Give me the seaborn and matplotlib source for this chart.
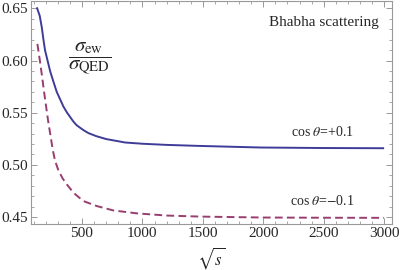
import numpy as np
import pandas as pd
import seaborn as sns
import matplotlib
matplotlib.use("Agg")
from matplotlib import pyplot as plt
from matplotlib.ticker import MultipleLocator, FormatStrFormatter

# values
sqrt_s_plus = [126, 150, 167, 181, 194, 236, 263, 291, 346, 374, 429, 456, 510, 553,
               620, 700, 856, 1000, 1200, 1476, 1973, 2500, 3000]
ratio_plus = [0.651, 0.643, 0.632, 0.620, 0.610, 0.590, 0.580, 0.570, 0.556, 0.5505,
              0.5415, 0.538, 0.5335, 0.5305, 0.5275, 0.5248, 0.5215, 0.5203, 0.5192,
              0.5182, 0.5167, 0.5162, 0.516]
sqrt_s_minus = [131, 150, 167, 185, 203, 220, 236, 258, 277, 304, 340, 374, 429, 511,
                622, 759, 953, 1200, 1476, 2000, 2500, 3000]
ratio_minus = [0.616, 0.601, 0.587, 0.571, 0.556, 0.542, 0.5305, 0.5145, 0.504, 0.495,
               0.487, 0.4814, 0.4734, 0.4654, 0.4606, 0.4564, 0.4536, 0.4515, 0.4505,
               0.4496, 0.4494, 0.4493]
curve_labels = [r"cos $\theta$=+0.1", r"cos $\theta$=$-$0.1"]

sns.set_style("ticks")
plt.rcParams['font.family'] = ['Liberation Serif', 'DejaVu Serif']
plt.rcParams['mathtext.fontset'] = 'stix'

df = pd.concat([
    pd.DataFrame({"sqrt_s": sqrt_s_plus, "ratio": ratio_plus, "curve": curve_labels[0]}),
    pd.DataFrame({"sqrt_s": sqrt_s_minus, "ratio": ratio_minus, "curve": curve_labels[1]}),
])

fig = plt.figure(figsize=(4.0, 2.7), dpi=100)
ax = fig.add_axes([0.0775, 0.170, 0.9015, 0.826])

sns.lineplot(data=df, x="sqrt_s", y="ratio", hue="curve", style="curve",
             palette=["#3d3d99", "#993d71"], dashes=[(1, 0), (4, 2.2)],
             linewidth=1.4, legend=False, ax=ax)

ax.set_xlim(78, 3062)
ax.set_ylim(0.4433, 0.6570)

ax.xaxis.set_major_locator(MultipleLocator(500))
ax.xaxis.set_minor_locator(MultipleLocator(100))
ax.yaxis.set_major_locator(MultipleLocator(0.05))
ax.yaxis.set_minor_locator(MultipleLocator(0.01))
ax.yaxis.set_major_formatter(FormatStrFormatter('%.2f'))

for sp in ax.spines.values():
    sp.set_visible(True)
    sp.set_color('#999999')
    sp.set_linewidth(0.8)
ax.tick_params(which='both', direction='in', top=True, right=True,
               color='#999999', labelsize=11, pad=2)
ax.tick_params(which='major', length=4, width=0.7)
ax.tick_params(which='minor', length=2.2, width=0.6)

ax.set_xlabel(r"$\sqrt{s}$", fontsize=12, labelpad=4)
ax.set_ylabel("")

ax.text(0.965, 0.935, "Bhabha scattering", transform=ax.transAxes,
        ha='right', va='top', fontsize=11)
ax.text(0.163, 0.744, r"$\dfrac{\sigma_{\rm ew}}{\sigma_{\rm QED}}$",
        transform=ax.transAxes, ha='center', va='center', fontsize=15)
ax.text(2490, 0.5317, curve_labels[0], ha='center', va='center', fontsize=10)
ax.text(2490, 0.4654, curve_labels[1], ha='center', va='center', fontsize=10)

fig.savefig("out.png", dpi=100)
